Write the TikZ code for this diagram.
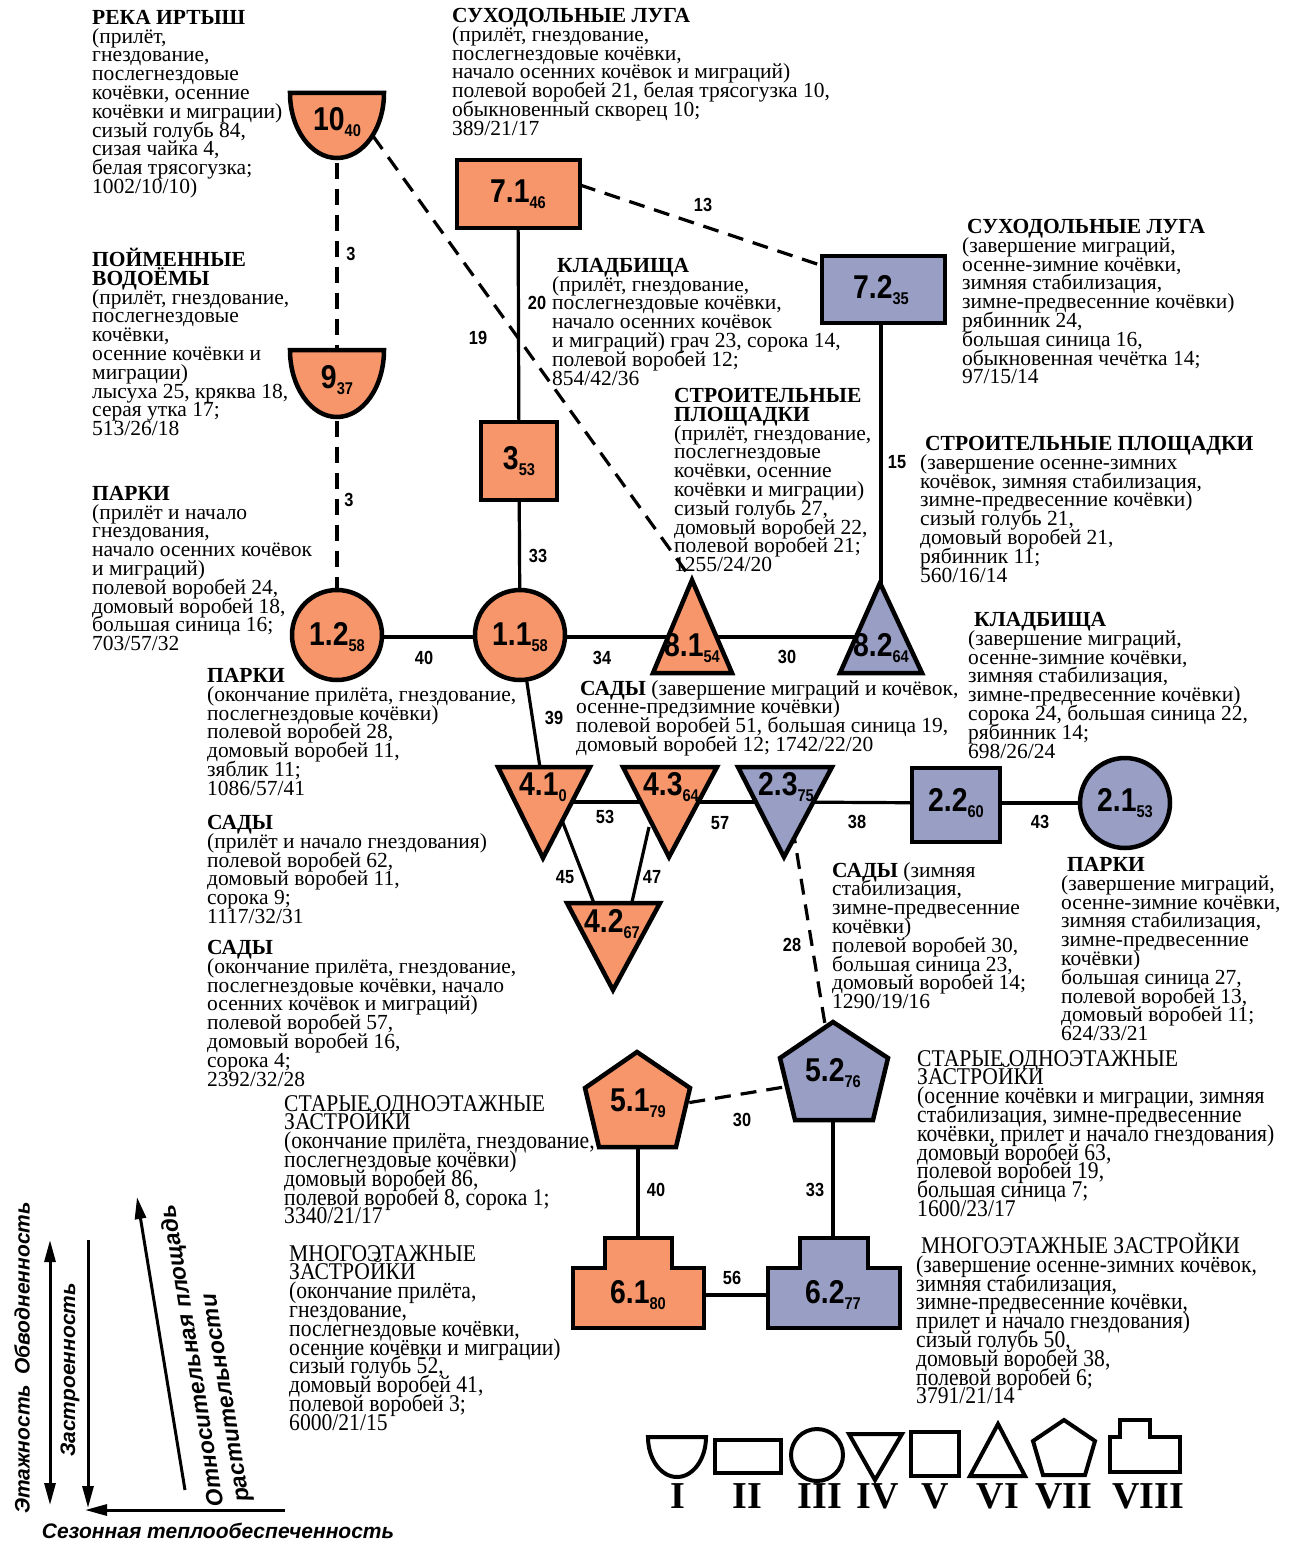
\documentclass[tikz,border=0pt]{standalone}
\usepackage{fontspec}
\setmainfont{Liberation Serif}
\newfontfamily\numsans[FakeStretch=0.86]{Liberation Sans}
\newfontfamily\tallserif[FakeStretch=0.9]{Liberation Serif}
\newfontfamily\axsans{Liberation Sans}
\usetikzlibrary{arrows.meta,calc}
\definecolor{warmc}{RGB}{246,150,106}
\definecolor{coldc}{RGB}{152,158,196}
\pgfdeclarelayer{back}
\pgfsetlayers{back,main}
\newcommand{\sub}[1]{\raisebox{-6pt}{\fontsize{17}{17}\selectfont #1}}
\newcommand{\tightlines}{\lineskiplimit=-30pt\relax}
\tikzset{
  warm/.style={fill=warmc,draw=black,line width=4.5pt},
  cold/.style={fill=coldc,draw=black,line width=4.5pt},
  cellt/.style={font=\numsans\bfseries\fontsize{33}{33}\selectfont,inner sep=0pt},
  link/.style={line width=3.2pt},
  dlink/.style={line width=3.2pt,dash pattern=on 16pt off 10pt},
  wt/.style={font=\numsans\bfseries\fontsize{19}{19}\selectfont,inner sep=0pt},
  txt/.style={anchor=north west,inner sep=0pt,align=left,font=\fontsize{21.5}{18.8}\selectfont\tightlines},
  ttxt/.style={txt,font=\tallserif\fontsize{24}{18.8}\selectfont\tightlines},
  leg/.style={draw=black,line width=4pt},
  legl/.style={font=\bfseries\fontsize{38}{38}\selectfont,inner sep=0pt,anchor=base},
  axis/.style={line width=3pt,-{Triangle[length=22pt,width=11pt]}},
  axl/.style={font=\axsans\bfseries\itshape\fontsize{21}{21}\selectfont,inner sep=0pt}
}
\begin{document}
\begin{tikzpicture}[x=1pt,y=-1pt]
\useasboundingbox (0,0) rectangle (1292,1544);
% shapes
\filldraw[warm] (290,93) -- (384,93) arc[start angle=0,end angle=180,x radius=47,y radius=65] -- cycle;
\filldraw[warm] (290,350) -- (384,350) arc[start angle=0,end angle=180,x radius=47,y radius=67] -- cycle;
\filldraw[warm] (457,160) rectangle (580,228);
\filldraw[cold] (822,256) rectangle (945,323);
\filldraw[warm] (481,422) rectangle (557,500);
\filldraw[warm] (337,635) circle[radius=45];
\filldraw[warm] (520,635) circle[radius=45];
\filldraw[cold] (1125,803) circle[radius=45];
\filldraw[warm] (653,673) -- (692,580) -- (732,673) -- cycle;
\filldraw[cold] (840,673) -- (880,583) -- (922,673) -- cycle;
\filldraw[warm] (498,767) -- (590,767) -- (543,858) -- cycle;
\filldraw[warm] (623,767) -- (717,767) -- (669,857) -- cycle;
\filldraw[warm] (567,903) -- (660,903) -- (613,990) -- cycle;
\filldraw[cold] (738,767) -- (832,767) -- (784,857) -- cycle;
\filldraw[cold] (912,768) rectangle (1000,842);
\filldraw[warm] (637,1052) -- (690,1088) -- (676,1147) -- (599,1147) -- (585,1088) -- cycle;
\filldraw[cold] (833,1022) -- (888,1058) -- (873,1120) -- (795,1120) -- (780,1058) -- cycle;
\filldraw[warm] (573,1328) -- (573,1268) -- (605,1268) -- (605,1238) -- (672,1238) -- (672,1268) -- (704,1268) -- (704,1328) -- cycle;
\filldraw[cold] (768,1328) -- (768,1268) -- (800,1268) -- (800,1238) -- (868,1238) -- (868,1268) -- (900,1268) -- (900,1328) -- cycle;
% cell labels
\node[cellt] (n10) at (337,122) {10\sub{40}};
\node[cellt] (n9) at (337,380) {9\sub{37}};
\node[cellt] (n71) at (518,194) {7.1\sub{46}};
\node[cellt] (n72) at (881,290) {7.2\sub{35}};
\node[cellt] (n3) at (519,461) {3\sub{53}};
\node[cellt] (n12) at (337,637) {1.2\sub{58}};
\node[cellt] (n11) at (520,637) {1.1\sub{58}};
\node[cellt] (n21) at (1125,803) {2.1\sub{53}};
\node[cellt] (n81) at (692,648) {8.1\sub{54}};
\node[cellt] (n82) at (881,648) {8.2\sub{64}};
\node[cellt] (n41) at (543,787) {4.1\sub{0}};
\node[cellt] (n43) at (671,787) {4.3\sub{64}};
\node[cellt] (n42) at (612,924) {4.2\sub{67}};
\node[cellt] (n23) at (786,787) {2.3\sub{75}};
\node[cellt] (n22) at (956,803) {2.2\sub{60}};
\node[cellt] (n51) at (638,1103) {5.1\sub{79}};
\node[cellt] (n52) at (833,1073) {5.2\sub{76}};
\node[cellt] (n61) at (638,1295) {6.1\sub{80}};
\node[cellt] (n62) at (833,1295) {6.2\sub{77}};
% connectors
\begin{pgfonlayer}{back}
\draw[dlink] (n10) -- (n9) node[wt] (w1) at (351,254) {3};
\draw[dlink] (n9) -- (n12) node[wt] (w2) at (349,500) {3};
\draw[dlink] ([xshift=36pt,yshift=-14pt]n10.center) -- ([yshift=68pt]n81.center) node[wt] (w3) at (478,338) {19};
\draw[dlink] ([xshift=62pt,yshift=9pt]n71.center) -- ([xshift=-61pt,yshift=25pt]n72.center) node[wt] (w4) at (703,205) {13};
\draw[link] (n71) -- (n3) node[wt] (w5) at (537,303) {20};
\draw[link] (n3) -- (n11) node[wt] (w6) at (538,556) {33};
\draw[link] (n72) -- (n82) node[wt] (w7) at (897,462) {15};
\draw[link] (n12) -- (n11) node[wt] (w8) at (424,658) {40};
\draw[link] (n11) -- (n11 -| n81) node[wt] (w9) at (602,658) {34};
\draw[link] ([yshift=11pt]n81.center) -- ([yshift=11pt]n82.center) node[wt] (w10) at (787,657) {30};
\draw[link] (n11) -- (n41) node[wt] (w11) at (554,718) {39};
\draw[link] ([yshift=-15pt]n41.center) -- ([yshift=-15pt]n43.center) node[wt] (w12) at (605,817) {53};
\draw[link] ([yshift=-15pt]n43.center) -- ([yshift=-15pt]n23.center) node[wt] (w13) at (720,823) {57};
\draw[link] ([yshift=-15pt]n23.center) -- (n22) node[wt] (w14) at (857,822) {38};
\draw[link] (n22) -- (n21) node[wt] (w15) at (1040,822) {43};
\draw[link] ([xshift=10pt,yshift=-10pt]n41.center) -- ([xshift=-10pt]n42.center) node[wt] (w16) at (565,877) {45};
\draw[link] ([xshift=-22pt,yshift=-40pt]n43.center) -- ([xshift=15pt]n42.center) node[wt] (w17) at (652,877) {47};
\draw[dlink] (n23) -- (n52) node[wt] (w18) at (792,945) {28};
\draw[dlink] ([yshift=-8pt]n51.center) -- ([yshift=-6pt]n52.center) node[wt] (w19) at (742,1120) {30};
\draw[link] (n51) -- (n61) node[wt] (w20) at (656,1190) {40};
\draw[link] (n52) -- (n62) node[wt] (w21) at (815,1190) {33};
\draw[link] (n61) -- (n62) node[wt] (w22) at (732,1278) {56};
\end{pgfonlayer}
% habitat texts
\node[txt] (t1) at (92,10) {\textbf{РЕКА ИРТЫШ}\\(прилёт,\\гнездование,\\послегнездовые\\кочёвки, осенние\\кочёвки и миграции)\\сизый голубь 84,\\сизая чайка 4,\\белая трясогузка;\\1002/10/10)};
\node[txt] (t2) at (452,8) {\textbf{СУХОДОЛЬНЫЕ ЛУГА}\\(прилёт, гнездование,\\послегнездовые кочёвки,\\начало осенних кочёвок и миграций)\\полевой воробей 21, белая трясогузка 10,\\обыкновенный скворец 10;\\389/21/17};
\node[txt] (t3) at (92,248) {\textbf{ПОЙМЕННЫЕ}\\\textbf{ВОДОЁМЫ}\\(прилёт, гнездование,\\послегнездовые\\кочёвки,\\осенние кочёвки и\\миграции)\\лысуха 25, кряква 18,\\серая утка 17;\\513/26/18};
\node[txt] (t4) at (552,258) {\hspace*{5pt}\textbf{КЛАДБИЩА}\\(прилёт, гнездование,\\послегнездовые кочёвки,\\начало осенних кочёвок\\и миграций) грач 23, сорока 14,\\полевой воробей 12;\\854/42/36};
\node[txt] (t5) at (962,219) {\hspace*{5pt}\textbf{СУХОДОЛЬНЫЕ ЛУГА}\\(завершение миграций,\\осенне-зимние кочёвки,\\зимняя стабилизация,\\зимне-предвесенние кочёвки)\\рябинник 24,\\большая синица 16,\\обыкновенная чечётка 14;\\97/15/14};
\node[txt] (t6) at (674,388) {\textbf{СТРОИТЕЛЬНЫЕ}\\\textbf{ПЛОЩАДКИ}\\(прилёт, гнездование,\\послегнездовые\\кочёвки, осенние\\кочёвки и миграции)\\сизый голубь 27,\\домовый воробей 22,\\полевой воробей 21;\\1255/24/20};
\node[txt] (t7) at (920,436) {\hspace*{5pt}\textbf{СТРОИТЕЛЬНЫЕ ПЛОЩАДКИ}\\(завершение осенне-зимних\\кочёвок, зимняя стабилизация,\\зимне-предвесенние кочёвки)\\сизый голубь 21,\\домовый воробей 21,\\рябинник 11;\\560/16/14};
\node[txt] (t8) at (92,486) {\textbf{ПАРКИ}\\(прилёт и начало\\гнездования,\\начало осенних кочёвок\\и миграций)\\полевой воробей 24,\\домовый воробей 18,\\большая синица 16;\\703/57/32};
\node[txt] (t9) at (207,668) {\textbf{ПАРКИ}\\(окончание прилёта, гнездование,\\послегнездовые кочёвки)\\полевой воробей 28,\\домовый воробей 11,\\зяблик 11;\\1086/57/41};
\node[txt] (t10) at (207,815) {\textbf{САДЫ}\\(прилёт и начало гнездования)\\полевой воробей 62,\\домовый воробей 11,\\сорока 9;\\1117/32/31};
\node[txt] (t11) at (207,940) {\textbf{САДЫ}\\(окончание прилёта, гнездование,\\послегнездовые кочёвки, начало\\осенних кочёвок и миграций)\\полевой воробей 57,\\домовый воробей 16,\\сорока 4;\\2392/32/28};
\node[txt] (t12) at (576,680) {\hspace*{4pt}\textbf{САДЫ} (завершение миграций и кочёвок,\\осенне-предзимние кочёвки)\\полевой воробей 51, большая синица 19,\\домовый воробей 12; 1742/22/20};
\node[txt] (t13) at (968,612) {\hspace*{6pt}\textbf{КЛАДБИЩА}\\(завершение миграций,\\осенне-зимние кочёвки,\\зимняя стабилизация,\\зимне-предвесенние кочёвки)\\сорока 24, большая синица 22,\\рябинник 14;\\698/26/24};
\node[txt] (t14) at (832,862) {\textbf{САДЫ} (зимняя\\стабилизация,\\зимне-предвесенние\\кочёвки)\\полевой воробей 30,\\большая синица 23,\\домовый воробей 14;\\1290/19/16};
\node[txt] (t15) at (1061,857) {\hspace*{6pt}\textbf{ПАРКИ}\\(завершение миграций,\\осенне-зимние кочёвки,\\зимняя стабилизация,\\зимне-предвесенние\\кочёвки)\\большая синица 27,\\полевой воробей 13,\\домовый воробей 11;\\624/33/21};
\node[ttxt] (t16) at (284,1095) {СТАРЫЕ ОДНОЭТАЖНЫЕ\\ЗАСТРОЙКИ\\(окончание прилёта, гнездование,\\послегнездовые кочёвки)\\домовый воробей 86,\\полевой воробей 8, сорока 1;\\3340/21/17};
\node[ttxt] (t17) at (917,1050) {СТАРЫЕ ОДНОЭТАЖНЫЕ\\ЗАСТРОЙКИ\\(осенние кочёвки и миграции, зимняя\\стабилизация, зимне-предвесенние\\кочёвки, прилет и начало гнездования)\\домовый воробей 63,\\полевой воробей 19,\\большая синица 7;\\1600/23/17};
\node[ttxt] (t18) at (289,1245) {МНОГОЭТАЖНЫЕ\\ЗАСТРОЙКИ\\(окончание прилёта,\\гнездование,\\послегнездовые кочёвки,\\осенние кочёвки и миграции)\\сизый голубь 52,\\домовый воробей 41,\\полевой воробей 3;\\6000/21/15};
\node[ttxt] (t19) at (916,1233) {\hspace*{5pt}МНОГОЭТАЖНЫЕ ЗАСТРОЙКИ\\(завершение осенне-зимних кочёвок,\\зимняя стабилизация,\\зимне-предвесенние кочёвки,\\прилет и начало гнездования)\\сизый голубь 50,\\домовый воробей 38,\\полевой воробей 6;\\3791/21/14};
% legend
\draw[leg] (648,1437) -- (706,1437) arc[start angle=0,end angle=180,x radius=29,y radius=40] -- cycle;
\draw[leg] (715,1440) rectangle (781,1473);
\draw[leg] (817,1455) circle[radius=26];
\draw[leg] (849,1434) -- (902,1434) -- (875,1480) -- cycle;
\draw[leg] (911,1432) rectangle (959,1476);
\draw[leg] (970,1476) -- (998,1424) -- (1025,1476) -- cycle;
\draw[leg] (1064,1420) -- (1095,1441) -- (1085,1475) -- (1043,1475) -- (1033,1441) -- cycle;
\draw[leg] (1110,1472) -- (1110,1437) -- (1120,1437) -- (1120,1420) -- (1150,1420) -- (1150,1437) -- (1180,1437) -- (1180,1472) -- cycle;
\node[legl] (l1) at (678,1508) {I};
\node[legl] (l2) at (747,1508) {II};
\node[legl] (l3) at (820,1508) {III};
\node[legl] (l4) at (878,1508) {IV};
\node[legl] (l5) at (935,1508) {V};
\node[legl] (l6) at (998,1508) {VI};
\node[legl] (l7) at (1064,1508) {VII};
\node[legl] (l8) at (1148,1508) {VIII};
% axes
\coordinate (h0) at (285,1510);
\coordinate (h1) at (85,1510);
\coordinate (v0) at (50,1375);
\coordinate (v1) at (50,1240);
\coordinate (v2) at (50,1505);
\coordinate (z0) at (88,1240);
\coordinate (z1) at (88,1508);
\coordinate (d0) at (185,1490);
\coordinate (d1) at (137,1197);
\draw[axis] (h0) -- (h1);
\draw[axis] (v0) -- (v1);
\draw[axis] (v0) -- (v2);
\draw[axis] (z0) -- (z1);
\draw[axis] (d0) -- (d1);
\node[axl,anchor=north] (a1) at (218,1523) {Сезонная теплообеспеченность};
\node[axl,rotate=90] (a2) at (22,1358) {Этажность\hspace{10pt}Обводненность};
\node[axl,rotate=90] (a3) at (70,1370) {Застроенность};
\node[axl,rotate=99.3,anchor=north west,align=left,font=\axsans\bfseries\itshape\fontsize{23}{26}\selectfont] (a4) at (207,1508) {Относительная площадь\\растительности};
\end{tikzpicture}
\end{document}
